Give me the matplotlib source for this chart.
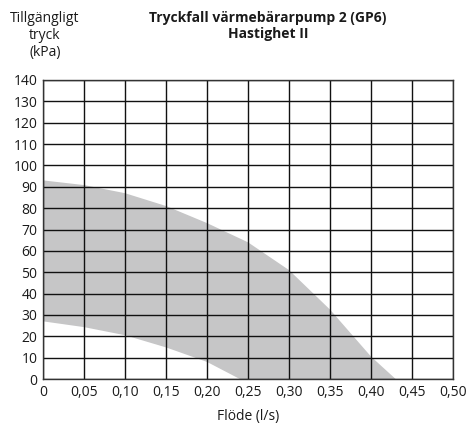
import matplotlib.pyplot as plt
import numpy as np

plt.rcParams['font.family'] = ['Open Sans', 'DejaVu Sans']

# upper limit of the pressure band (kPa) vs flow (l/s)
upper_flow = [0, 0.05, 0.10, 0.15, 0.20, 0.25, 0.30, 0.35, 0.40, 0.43]
upper_kpa = [93, 90.8, 87, 81, 73, 64, 51, 32.5, 10.5, 0]
# lower limit
lower_flow = [0, 0.05, 0.10, 0.15, 0.20, 0.24]
lower_kpa = [27, 24.3, 20.5, 14.8, 8, 0]

x_ticks = np.arange(0, 0.501, 0.05)
y_ticks = np.arange(0, 141, 10)
x_labels = ['0'] + ['%.2f' % v for v in x_ticks[1:]]
x_labels = [s.replace('.', ',') for s in x_labels]

fig = plt.figure(figsize=(4.69, 4.25), dpi=100)
ax = fig.add_axes([0.0917, 0.1082, 0.8743, 0.7036])

# band polygon: along upper curve, back along the bottom, up the lower curve
px = upper_flow + lower_flow[::-1]
py = upper_kpa + lower_kpa[::-1]
ax.fill(px, py, color='#c6c6c7', lw=0, zorder=1)

ax.set_xlim(0, 0.5)
ax.set_ylim(0, 140)
ax.set_xticks(x_ticks)
ax.set_xticklabels(x_labels)
ax.set_yticks(y_ticks)
ax.tick_params(length=0, labelsize=10, colors='#1a1a1a', pad=4)
ax.grid(True, color='#111111', lw=1.0, zorder=2)
ax.set_axisbelow(False)
for sp in ax.spines.values():
    sp.set_color('#333333')
    sp.set_linewidth(1.0)
    sp.set_zorder(3)

ax.set_xlabel('Flöde (l/s)', fontsize=10, color='#1a1a1a', labelpad=7)

fig.text(0.096, 0.975, 'Tillgängligt\ntryck\n(kPa)', ha='center', va='top',
         fontsize=10, color='#1a1a1a', linespacing=1.2)
fig.text(0.571, 0.975, 'Tryckfall värmebärarpump 2 (GP6)\nHastighet II', ha='center',
         va='top', fontsize=10, fontweight='bold', color='#1a1a1a', linespacing=1.2)

fig.savefig('out.png', dpi=100)
